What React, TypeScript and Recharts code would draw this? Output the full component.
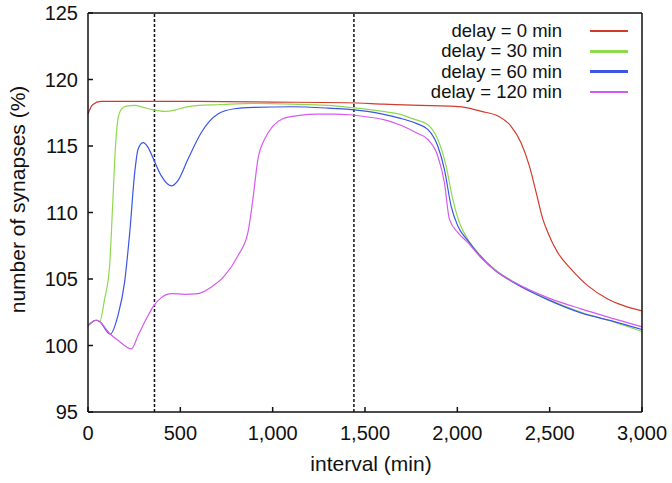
import React from 'react';
import { LineChart, Line, XAxis, YAxis, ReferenceLine } from 'recharts';

// values, [interval (min), synapses (%)]
const delay0: [number, number][] = [
  [0, 117.4], [25, 118.1], [70, 118.35], [200, 118.35], [560, 118.35], [1000, 118.3],
  [1400, 118.25], [1600, 118.15], [1800, 118.05], [1950, 118.0], [2040, 117.9],
  [2130, 117.6], [2220, 117.25], [2290, 116.5], [2345, 115.25], [2390, 113.5],
  [2427, 111.5], [2463, 109.5], [2490, 108.5], [2543, 107], [2616, 105.75],
  [2706, 104.5], [2814, 103.5], [2900, 103.0], [3000, 102.6],
];

const delay30: [number, number][] = [
  [0, 101.5], [45, 101.9], [63, 101.8], [90, 103.5], [117, 106], [135, 111],
  [148, 114.75], [162, 117], [180, 117.75], [207, 118.0], [253, 118.05], [300, 117.9],
  [343, 117.75], [415, 117.6], [470, 117.7], [523, 117.9], [600, 118.05], [703, 118.1],
  [900, 118.2], [1100, 118.15], [1300, 118.05], [1416, 117.9], [1596, 117.6],
  [1687, 117.4], [1768, 117.0], [1840, 116.6], [1894, 115.5], [1939, 113.5],
  [1975, 111], [2011, 109.25], [2056, 108], [2110, 107], [2200, 105.75],
  [2309, 104.75], [2489, 103.5], [2670, 102.5], [2850, 101.75], [3000, 101.05],
];

const delay60: [number, number][] = [
  [0, 101.5], [45, 101.9], [63, 101.8], [120, 100.85], [162, 102.25], [198, 104.75],
  [226, 108.5], [253, 113], [271, 114.75], [298, 115.25], [325, 114.9], [352, 114.1],
  [397, 112.75], [451, 112.0], [487, 112.4], [541, 114], [613, 116], [703, 117.4],
  [794, 117.8], [902, 117.9], [1100, 117.95], [1300, 117.85], [1416, 117.75],
  [1596, 117.4], [1687, 117.1], [1777, 116.7], [1840, 116.25], [1894, 115],
  [1930, 113.25], [1966, 110.5], [2002, 109], [2056, 107.9], [2110, 106.95],
  [2200, 105.7], [2309, 104.7], [2489, 103.45], [2670, 102.45], [2850, 101.8], [3000, 101.2],
];

const delay120: [number, number][] = [
  [0, 101.5], [45, 101.9], [63, 101.8], [117, 100.9], [162, 100.4], [235, 99.75],
  [271, 100.75], [325, 102.25], [352, 102.9], [397, 103.6], [451, 103.9], [523, 103.85],
  [595, 103.9], [668, 104.4], [740, 105.25], [812, 106.75], [866, 108.5], [893, 111],
  [920, 114], [956, 115.5], [1001, 116.5], [1055, 117.05], [1145, 117.3], [1236, 117.4],
  [1326, 117.4], [1416, 117.35], [1506, 117.2], [1596, 117.0], [1687, 116.6],
  [1777, 116.0], [1840, 115.5], [1894, 114.25], [1930, 112.25], [1957, 109.5],
  [2002, 108.5], [2056, 107.75], [2128, 106.6], [2219, 105.5], [2309, 104.75],
  [2489, 103.6], [2670, 102.75], [2850, 102], [3000, 101.4],
];

const xTicks = [0, 500, 1000, 1500, 2000, 2500, 3000];
const yTicks = [95, 100, 105, 110, 115, 120, 125];
const markers = [360, 1440];

const series = [
  { name: 'delay = 0 min', points: delay0, color: '#d43a2c' },
  { name: 'delay = 30 min', points: delay30, color: '#8fd94e' },
  { name: 'delay = 60 min', points: delay60, color: '#3b55e6' },
  { name: 'delay = 120 min', points: delay120, color: '#d65af0' },
];

const font = '"Liberation Sans", Arial, Helvetica, sans-serif';
const ink = '#111';
const axisLine = { stroke: ink, strokeWidth: 1.5 };
const TICK = 5;
const MARGIN = 14;

const fmt = (v: number) => v.toLocaleString('en-US');

// ticks point into the plot, like gnuplot's
function BottomTick(p: any) {
  const ay = p.y - MARGIN;
  return (
    <g>
      <path d={`M${p.x},${ay}V${ay - TICK}`} stroke={ink} strokeWidth={1.5} fill="none" />
      <text x={p.x} y={ay + 28} textAnchor="middle" style={{ fontSize: 20, fontFamily: font, fill: ink }}>
        {fmt(p.payload.value)}
      </text>
    </g>
  );
}

function TopTick(p: any) {
  const ay = p.y + MARGIN;
  return <path d={`M${p.x},${ay}V${ay + TICK}`} stroke={ink} strokeWidth={1.5} fill="none" />;
}

function LeftTick(p: any) {
  const ax = p.x + MARGIN;
  return (
    <g>
      <path d={`M${ax},${p.y}H${ax + TICK}`} stroke={ink} strokeWidth={1.5} fill="none" />
      <text x={ax - 10} y={p.y + 7} textAnchor="end" style={{ fontSize: 20, fontFamily: font, fill: ink }}>
        {p.payload.value}
      </text>
    </g>
  );
}

function RightTick(p: any) {
  const ax = p.x - MARGIN;
  return <path d={`M${ax},${p.y}H${ax - TICK}`} stroke={ink} strokeWidth={1.5} fill="none" />;
}

export default function App() {
  return (
    <div style={{ position: 'absolute', left: 0, top: 0, width: 672, height: 483, background: '#fff' }}>
      <LineChart width={672} height={483} margin={{ top: 12, right: 29, bottom: 0, left: 0 }}>
        <XAxis
          dataKey="x"
          type="number"
          domain={[0, 3000]}
          ticks={xTicks}
          height={71}
          tickSize={0}
          tickMargin={MARGIN}
          axisLine={axisLine}
          tickLine={false}
          tick={<BottomTick />}
          interval={0}
          label={{
            content: (p: any) => {
              const vb = p.viewBox;
              return (
                <text x={vb.x + vb.width / 2 + 6} y={471} textAnchor="middle" style={{ fontSize: 21, fontFamily: font, fill: ink }}>
                  interval (min)
                </text>
              );
            },
          }}
        />
        <XAxis
          xAxisId="top"
          orientation="top"
          type="number"
          domain={[0, 3000]}
          ticks={xTicks}
          height={1}
          tickSize={0}
          tickMargin={MARGIN}
          tick={<TopTick />}
          interval={0}
          axisLine={axisLine}
          tickLine={false}
        />
        <YAxis
          type="number"
          domain={[95, 125]}
          ticks={yTicks}
          width={88}
          tickSize={0}
          tickMargin={MARGIN}
          axisLine={axisLine}
          tickLine={false}
          tick={<LeftTick />}
          interval={0}
          label={{
            content: (p: any) => {
              const vb = p.viewBox;
              const cx = 17;
              const cy = vb.y + vb.height / 2 - 13;
              return (
                <text
                  x={cx}
                  y={cy}
                  transform={`rotate(-90 ${cx} ${cy})`}
                  textAnchor="middle"
                  dominantBaseline="central"
                  style={{ fontSize: 21, fontFamily: font, fill: ink }}
                >
                  number of synapses (%)
                </text>
              );
            },
          }}
        />
        <YAxis
          yAxisId="right"
          orientation="right"
          type="number"
          domain={[95, 125]}
          ticks={yTicks}
          width={1}
          tickSize={0}
          tickMargin={MARGIN}
          tick={<RightTick />}
          interval={0}
          axisLine={axisLine}
          tickLine={false}
        />
        {markers.map((m) => (
          <ReferenceLine key={m} x={m} stroke={ink} strokeWidth={1.5} strokeDasharray="3 2" />
        ))}
        {series.map((s) => (
          <Line
            key={s.name}
            data={s.points.map(([x, y]) => ({ x, y }))}
            dataKey="y"
            name={s.name}
            type="monotone"
            stroke={s.color}
            strokeWidth={1.2}
            dot={false}
            isAnimationActive={false}
          />
        ))}
      </LineChart>
      <div style={{ position: 'absolute', right: 44, top: 21, fontFamily: font, fontSize: 18.5, color: ink }}>
        {series.map((s) => (
          <div key={s.name} style={{ display: 'flex', alignItems: 'center', justifyContent: 'flex-end', height: 20.3, lineHeight: '20.3px' }}>
            <span>{s.name}</span>
            <span style={{ display: 'inline-block', width: 38, height: 2.5, marginLeft: 28, background: s.color }} />
          </div>
        ))}
      </div>
    </div>
  );
}
